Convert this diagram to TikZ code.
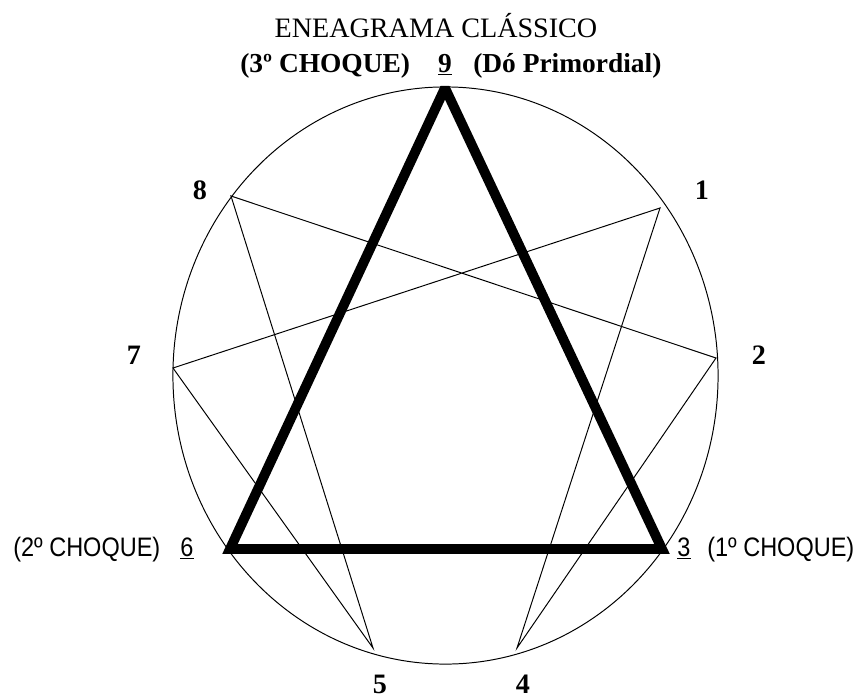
\documentclass[tikz,border=0pt]{standalone}
\usepackage{fontspec}
\setmainfont{Liberation Serif}
\newfontfamily\chsans[FakeStretch=0.88]{Liberation Sans}

\begin{document}
\begin{tikzpicture}[x=0.025cm, y=-0.025cm,
  titletxt/.style={font=\fontsize{20}{24}\selectfont, anchor=base, inner sep=0pt},
  headtxt/.style={font=\fontsize{19.5}{24}\selectfont\bfseries, anchor=base, inner sep=0pt},
  numtxt/.style={font=\fontsize{20}{24}\selectfont\bfseries, inner sep=0pt},
  choquetxt/.style={font=\fontsize{19}{24}\chsans, anchor=base, inner sep=0pt},
  hexline/.style={line width=0.7pt},
  heavyline/.style={line width=7pt, line join=miter, miter limit=2}]
  \useasboundingbox (0,0) rectangle (857,698);

  % Points
  \coordinate (p9) at (445,88);
  \coordinate (p1) at (660,208);
  \coordinate (p2) at (716,358);
  \coordinate (p3) at (662,549);
  \coordinate (p4) at (517,648);
  \coordinate (p5) at (373,648);
  \coordinate (p6) at (230,549);
  \coordinate (p7) at (173,368);
  \coordinate (p8) at (231,196);

  % Nodes
  \node[titletxt] (title) at (436,37) {ENEAGRAMA CLÁSSICO};
  \node[headtxt, anchor=base west] (choque3) at (240,72) {(3º CHOQUE)};
  \node[headtxt] (num9) at (445,72) {\underline{9}};
  \node[headtxt, anchor=base west] (primordial) at (473,72) {(Dó Primordial)};
  \node[numtxt] (num1) at (702,190) {1};
  \node[numtxt] (num2) at (759,355) {2};
  \node[numtxt] (num4) at (523,684) {4};
  \node[numtxt] (num5) at (380,684) {5};
  \node[numtxt] (num7) at (134,355) {7};
  \node[numtxt] (num8) at (200,190) {8};
  \node[choquetxt, anchor=base west] (choque2) at (13,556) {(2º CHOQUE)};
  \node[choquetxt] (num6) at (187,556) {\underline{6}};
  \node[choquetxt] (num3) at (684,556) {\underline{3}};
  \node[choquetxt, anchor=base west] (choque1) at (707,556) {(1º CHOQUE)};

  % Edges
  \draw[hexline] (445.5,375.5) ellipse [x radius=6.8125cm, y radius=7.2125cm];
  \draw[hexline] (p1) -- (p4) -- (p2) -- (p8) -- (p5) -- (p7) -- cycle;
  \draw[heavyline] (p9) -- (p3) -- (p6) -- cycle;
\end{tikzpicture}
\end{document}
